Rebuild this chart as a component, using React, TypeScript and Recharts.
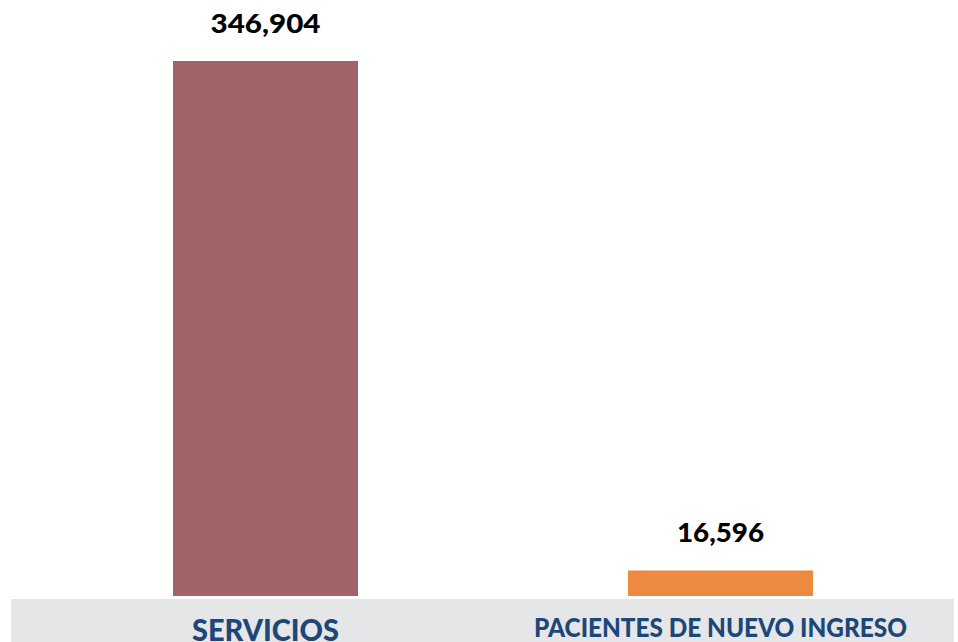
import React from "react";
import { Bar, BarChart, Cell, LabelList, XAxis, YAxis } from "recharts";

// categories and values
const CATEGORIES = ["SERVICIOS", "PACIENTES DE NUEVO INGRESO"];
const VALUES = [346904, 16596];
const BAR_COLORS = ["#a06468", "#ed8a40"];

const data = CATEGORIES.map((name, i) => ({ name, value: VALUES[i] }));

const LABEL_COLOR = "#1d4679";

function CategoryTick({ x, y, payload, index }: any) {
  const big = index === 0;
  return (
    <text
      x={x}
      y={y}
      dy={big ? 37 : 33}
      textAnchor="middle"
      fill={LABEL_COLOR}
      fontFamily="Lato, 'Open Sans', sans-serif"
      fontWeight={900}
      fontSize={big ? 31 : 26}
      textLength={big ? 147 : 373}
      lengthAdjust="spacingAndGlyphs"
    >
      {payload.value}
    </text>
  );
}

function ValueLabel({ x, y, width, value }: any) {
  return (
    <text
      x={x + width / 2}
      y={y - 28}
      textAnchor="middle"
      fill="#000"
      fontFamily="Lato, sans-serif"
      fontWeight={900}
      fontSize={27}
      textLength={value > 100000 ? 110 : 87}
      lengthAdjust="spacingAndGlyphs"
    >
      {Number(value).toLocaleString("en-US")}
    </text>
  );
}

export default function App() {
  return (
    <div style={{ position: "absolute", left: 0, top: 0, width: 958, height: 642, background: "#fff" }}>
      <div
        style={{
          position: "absolute",
          left: 11,
          top: 599,
          width: 943,
          height: 43,
          background: "#e5e6e8",
        }}
      />
      <BarChart
        width={958}
        height={642}
        data={data}
        margin={{ top: 61, right: 10, left: 38, bottom: 0 }}
        barCategoryGap={0}
        style={{ position: "absolute", left: 0, top: 0 }}
      >
        <XAxis
          dataKey="name"
          axisLine={false}
          tickLine={false}
          height={46}
          interval={0}
          tick={<CategoryTick />}
        />
        <YAxis hide domain={[0, VALUES[0]]} />
        <Bar dataKey="value" barSize={185} isAnimationActive={false}>
          {data.map((d, i) => (
            <Cell key={d.name} fill={BAR_COLORS[i]} />
          ))}
          <LabelList dataKey="value" content={<ValueLabel />} />
        </Bar>
      </BarChart>
    </div>
  );
}
